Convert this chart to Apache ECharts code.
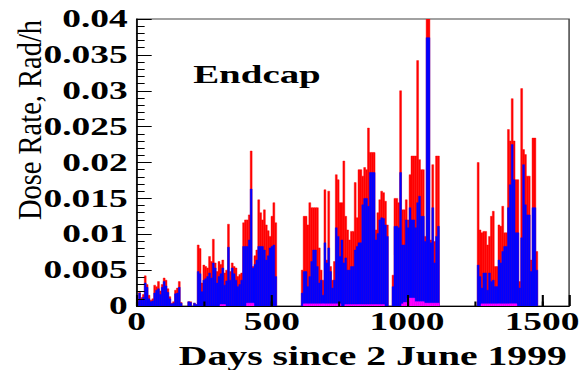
<!DOCTYPE html>
<html>
<head>
<meta charset="utf-8">
<script src="https://cdn.jsdelivr.net/npm/echarts@6/dist/echarts.min.js"></script>
<style>
  html, body { margin: 0; padding: 0; background: #fff; overflow: hidden; width: 584px; height: 370px; }
  /* the plot is laid out narrow and widened, giving the broad ROOT-style lettering */
  #chart { width: 390px; height: 370px; transform: scaleX(1.4974); transform-origin: 0 0; }
</style>
</head>
<body>
<div id="chart"></div>
<script>
// Weekly bins, starting at day 0 (2 June 1999)
const binDays = 7;
const xMax = 1600;
const yMax = 0.04;
const xTitle = 'Days since 2 June 1999';
const yTitle = 'Dose Rate, Rad/h';
const panelLabel = 'Endcap';

// Dose rate per weekly bin, Rad/h (red: full rate)
const totalRate = [
  0.0008,0.0019,0.0012,0.0016,0.0042,0.0030,0.0015,0.0008,0.0010,0.0029,
  0.0027,0.0034,0.0021,0.0030,0.0039,0.0036,0.0024,0.0013,0.0004,0.0006,
  0.0022,0.0025,0.0034,0.0005,0,0,0,0.0006,0.0006,0,
  0.0004,0.0002,0.0085,0.0080,0.0032,0.0057,0.0055,0.0053,0.0069,0.0062,
  0.0093,0.0060,0.0048,0.0062,0.0058,0.0064,0.0046,0.0050,0.0114,0.0048,
  0.0060,0.0055,0.0053,0.0041,0.0044,0.0046,0.0116,0.0120,0.0120,0.0127,
  0.0216,0.0055,0.0070,0.0078,0.0148,0.0130,0.0120,0.0134,0.0113,0.0105,
  0.0097,0.0125,0.0144,0.0116,0,0,0,0,0,0,
  0,0,0,0,0,0,0,0.0050,0.0125,0.0125,
  0.0113,0.0144,0.0137,0.0137,0.0137,0.0137,0.0081,0.0050,0.0036,0.0162,
  0.0064,0.0160,0.0055,0.0036,0.0062,0.0183,0.0176,0.0144,0.0144,0.0202,
  0.0125,0.0106,0.0092,0.0104,0.0104,0.0172,0.0123,0.0190,0.0190,0.0181,
  0.0193,0.0190,0.0248,0.0214,0.0214,0.0214,0.0106,0.0130,0.0148,0.0160,
  0.0158,0.0146,0.0113,0,0,0.0043,0.0150,0.0150,0.0144,0.0300,
  0.0134,0.0134,0.0148,0.0120,0.0183,0.0209,0.0209,0.0209,0.0342,0.0204,
  0.0190,0.0190,0.0097,0.0401,0.0401,0.0092,0.0197,0.0090,0.0209,0.0209,
  0,0,0,0,0,0,0,0,0,0,
  0,0,0,0,0,0,0,0,0,0,
  0.0200,0.0106,0.0102,0.0104,0.0104,0.0085,0.0097,0.0125,0.0132,0.0055,
  0.0055,0.0113,0.0111,0.0139,0.0102,0.0102,0.0246,0.0230,0.0289,0.0230,
  0.0176,0.0176,0.0034,0.0303,0.0218,0.0211,0.0181,0.0181,0.0064,0.0234,
  0.0234,0.0076
];

// Blue component
const blueRate = [
  0.0006,0.0018,0.0009,0.0012,0.0032,0.0026,0.0010,0.0006,0.0007,0.0018,
  0.0022,0.0024,0.0016,0.0026,0.0034,0.0028,0.0019,0.0010,0.0003,0.0004,
  0.0017,0.0018,0.0026,0.0004,0,0,0,0.0006,0.0005,0,
  0.0004,0.0002,0.0048,0.0045,0.0020,0.0036,0.0038,0.0041,0.0046,0.0039,
  0.0060,0.0053,0.0032,0.0041,0.0045,0.0053,0.0029,0.0035,0.0082,0.0036,
  0.0053,0.0045,0.0036,0.0027,0.0030,0.0036,0.0083,0.0083,0.0083,0.0092,
  0.0163,0.0053,0.0058,0.0064,0.0083,0.0083,0.0083,0.0078,0.0064,0.0070,
  0.0081,0.0083,0.0085,0.0041,0,0,0,0,0,0,
  0,0,0,0,0,0,0,0.0018,0.0048,0.0048,
  0.0027,0.0041,0.0062,0.0078,0.0078,0.0055,0.0032,0.0036,0.0015,0.0088,
  0.0060,0.0081,0.0048,0.0025,0.0036,0.0109,0.0097,0.0069,0.0092,0.0060,
  0.0067,0.0050,0.0050,0.0055,0.0055,0.0078,0.0083,0.0088,0.0088,0.0141,
  0.0150,0.0150,0.0139,0.0186,0.0186,0.0186,0.0092,0.0101,0.0120,0.0123,
  0.0122,0.0113,0.0097,0,0,0.0027,0.0111,0.0111,0.0109,0.0186,
  0.0085,0.0085,0.0120,0.0109,0.0137,0.0120,0.0120,0.0109,0.0144,0.0153,
  0.0125,0.0125,0.0090,0.0374,0.0374,0.0088,0.0137,0.0060,0.0097,0.0111,
  0,0,0,0,0,0,0,0,0,0,
  0,0,0,0,0,0,0,0,0,0,
  0.0057,0.0041,0.0025,0.0046,0.0046,0.0022,0.0046,0.0034,0.0036,0.0027,
  0.0027,0.0064,0.0060,0.0076,0.0083,0.0083,0.0137,0.0169,0.0225,0.0176,
  0.0102,0.0102,0.0025,0.0095,0.0197,0.0141,0.0127,0.0127,0.0048,0.0137,
  0.0137,0.0050
];

// Small magenta component along the floor
const magentaRate = [
  0,0,0,0,0,0,0,0,0,0,
  0,0,0,0,0,0,0,0,0,0,
  0,0,0,0,0,0,0,0,0,0,
  0,0,0,0,0,0,0,0,0,0,
  0,0,0,0,0.0002,0.0002,0.0002,0,0,0,
  0,0,0,0,0,0,0,0,0.0004,0.0004,
  0.0004,0.0004,0,0,0,0,0,0,0,0,
  0,0,0,0,0,0,0,0,0,0,
  0,0,0,0,0,0,0,0,0.0003,0.0003,
  0.0003,0.0003,0.0003,0.0003,0.0003,0.0003,0.0003,0.0003,0.0003,0.0003,
  0.0003,0.0003,0.0003,0.0003,0.0003,0.0003,0.0003,0.0003,0,0,
  0.0002,0.0002,0.0002,0.0002,0.0002,0.0002,0.0002,0.0002,0.0002,0.0002,
  0.0002,0.0002,0.0002,0.0002,0.0002,0.0002,0.0002,0.0002,0.0002,0.0002,
  0.0002,0,0,0,0,0,0,0,0,0,
  0.0003,0.0005,0.0005,0.0011,0.0011,0.0011,0.0011,0.0006,0.0006,0.0006,
  0.0006,0.0006,0.0004,0.0004,0.0004,0.0004,0.0004,0.0004,0.0004,0.0004,
  0,0,0,0,0,0,0,0,0,0,
  0,0,0,0,0,0,0,0,0,0,
  0,0,0.0003,0.0003,0.0003,0.0003,0.0003,0.0003,0.0003,0.0003,
  0.0003,0.0003,0.0003,0.0003,0.0003,0.0003,0.0003,0.0003,0.0003,0.0003,
  0.0003,0,0,0,0,0,0,0,0,0,
  0,0
];

const serif = '"Liberation Serif", "Times New Roman", serif';

function toBins(values) {
  return values.map((v, i) => [i * binDays, v]);
}

// Each bin is a filled rectangle spanning [start, start + binDays]
function histogram(name, values, color) {
  return {
    name: name,
    type: 'custom',
    clip: true,
    xAxisIndex: 0,
    yAxisIndex: 0,
    encode: { x: 0, y: 1 },
    data: toBins(values),
    renderItem: function (params, api) {
      const start = api.value(0);
      const v = api.value(1);
      if (!v) return null;
      const top = api.coord([start, v]);
      const base = api.coord([start + binDays, 0]);
      return {
        type: 'rect',
        shape: { x: top[0], y: top[1], width: base[0] - top[0], height: base[1] - top[1] },
        style: { fill: color, stroke: color, lineWidth: 0.35 }
      };
    }
  };
}

const chart = echarts.init(document.getElementById('chart'), null, { renderer: 'svg', width: 390, height: 370 });

chart.setOption({
  animation: false,
  backgroundColor: '#fff',
  grid: {
    left: 91.3, right: 8.2, top: 19, bottom: 64,
    show: true, borderColor: '#444', borderWidth: 1, backgroundColor: 'transparent'
  },
  xAxis: [
    {
      type: 'value', min: 0, max: xMax, interval: 250, z: 5,
      axisLine: { show: true, lineStyle: { color: '#000', width: 1 } },
      axisTick: { show: true, inside: true, length: 4.5, lineStyle: { color: '#000', width: 1.4 } },
      axisLabel: {
        showMaxLabel: false,
        formatter: v => (v % 500 === 0 ? String(v) : ''),
        fontFamily: serif, fontWeight: 'bold', fontSize: 25, color: '#000', margin: 3
      },
      splitLine: { show: false }
    },
    {
      type: 'value', min: 0, max: xMax, interval: 500, position: 'bottom', z: 5,
      axisLine: { show: false },
      axisTick: { show: true, inside: true, length: 11, lineStyle: { color: '#000', width: 1.4 } },
      axisLabel: { show: false },
      splitLine: { show: false }
    }
  ],
  yAxis: {
    type: 'value', min: 0, max: yMax, interval: 0.005, z: 5,
    axisLine: { show: true, lineStyle: { color: '#000', width: 1 } },
    axisTick: { show: true, inside: true, length: 10, lineStyle: { color: '#000', width: 1 } },
    minorTick: { show: true, splitNumber: 5, length: 5.3, lineStyle: { color: '#000', width: 1 } },
    axisLabel: { fontFamily: serif, fontWeight: 'bold', fontSize: 25, color: '#000', margin: 6 },
    splitLine: { show: false },
    minorSplitLine: { show: false }
  },
  series: [
    histogram('total', totalRate, '#ff0000'),
    histogram('blue', blueRate, '#0000ff'),
    histogram('magenta', magentaRate, '#ff00ff')
  ],
  graphic: [
    {
      type: 'text', x: 171.6, y: 74,
      style: { text: panelLabel, font: 'bold 26px ' + serif, fill: '#000', align: 'center', verticalAlign: 'middle' }
    },
    {
      type: 'text', x: 249, y: 356,
      style: { text: xTitle, font: 'bold 26.5px ' + serif, fill: '#000', align: 'center', verticalAlign: 'middle' }
    },
    {
      type: 'text', x: 19.6, y: 120, rotation: Math.PI / 2, scaleY: 0.81,
      style: { text: yTitle, font: '28.5px ' + serif, fill: '#000', align: 'center', verticalAlign: 'middle' }
    }
  ]
});
</script>
</body>
</html>
